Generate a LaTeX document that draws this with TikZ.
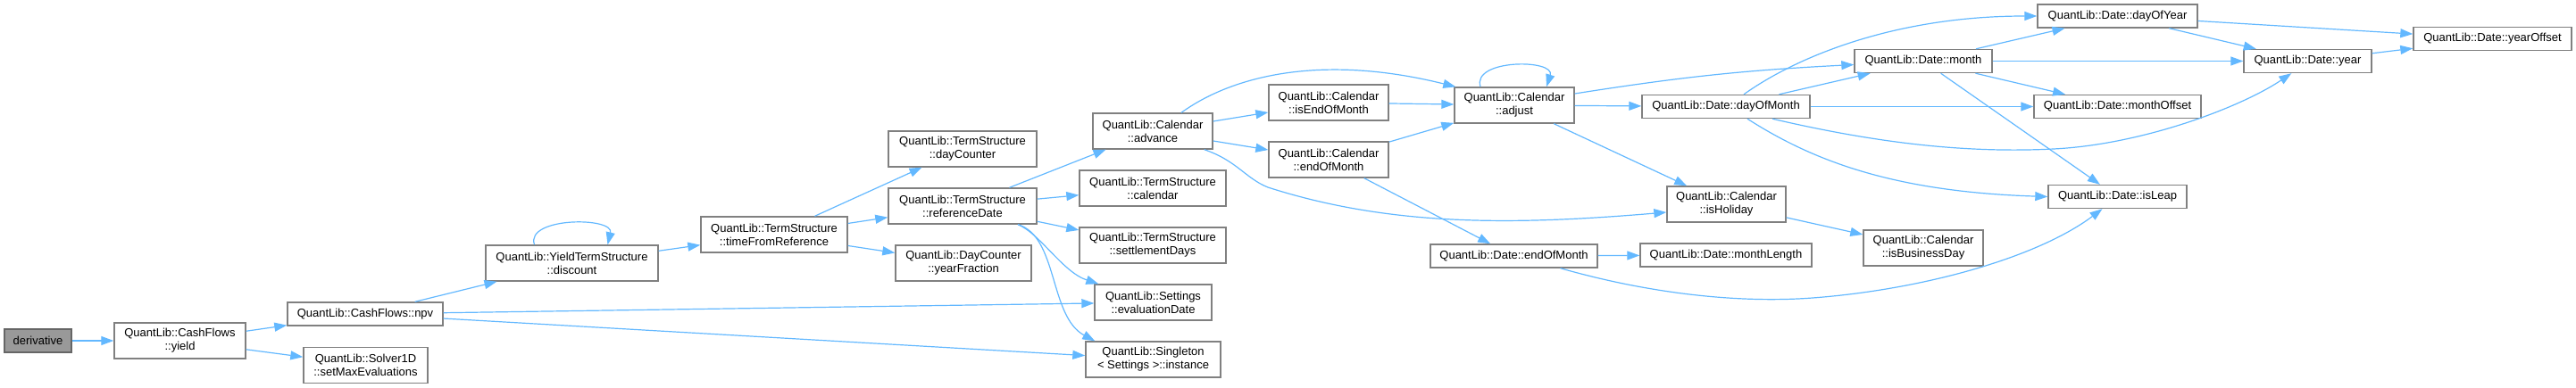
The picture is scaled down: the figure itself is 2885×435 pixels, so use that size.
\documentclass[tikz,border=0pt]{standalone}
\usepackage{fontspec}
\setmainfont{Liberation Sans}
\usepackage{tikz}
\usetikzlibrary{arrows.meta}
\definecolor{edgeblue}{HTML}{63B8FF}
\definecolor{boxgray}{HTML}{808080}
\definecolor{rootgray}{HTML}{999999}
\definecolor{rootedge}{HTML}{666666}

\begin{document}
\begin{tikzpicture}[
    x=1pt, y=-1pt,
    font=\fontsize{13}{15}\selectfont,
    % function boxes
    fn/.style={rectangle, draw=boxgray, fill=white, line width=1.4pt, minimum height=26pt, inner sep=0pt, align=center},
    fn2/.style={fn, minimum height=40pt},
    root/.style={fn, fill=rootgray, draw=rootedge},
    call/.style={-{Triangle[length=14pt,width=10pt]}, draw=edgeblue, line width=1.2pt},
]
\useasboundingbox (0,0) rectangle (2885,435);

% -------------------------
% Caller side
% -------------------------
\node[root, minimum width=75pt]  (derivative) at (42.5,382) {derivative};
\node[fn2, minimum width=147pt]  (yield)      at (201.5,382) {QuantLib::CashFlows\\::yield};
\node[fn, minimum width=174pt]   (npv)        at (409,352) {QuantLib::CashFlows::npv};
\node[fn2, minimum width=139pt]  (setMaxEval) at (409.5,409.5) {QuantLib::Solver1D\\::setMaxEvaluations};
\node[fn2, minimum width=193pt]  (discount)   at (640.5,295) {QuantLib::YieldTermStructure\\::discount};
\node[fn2, minimum width=164pt]  (timeFromRef) at (867,263) {QuantLib::TermStructure\\::timeFromReference};

% -------------------------
% Term structure / settings
% -------------------------
\node[fn2, minimum width=166pt] (dayCounter)   at (1078,167) {QuantLib::TermStructure\\::dayCounter};
\node[fn2, minimum width=166pt] (refDate)      at (1078,231) {QuantLib::TermStructure\\::referenceDate};
\node[fn2, minimum width=152pt] (yearFraction) at (1079,295) {QuantLib::DayCounter\\::yearFraction};
\node[fn2, minimum width=134pt] (advance)      at (1291,147) {QuantLib::Calendar\\::advance};
\node[fn2, minimum width=164pt] (tsCalendar)   at (1291,211) {QuantLib::TermStructure\\::calendar};
\node[fn2, minimum width=164pt] (settlementDays) at (1291,275) {QuantLib::TermStructure\\::settlementDays};
\node[fn2, minimum width=131pt] (evalDate)     at (1291.5,339) {QuantLib::Settings\\::evaluationDate};
\node[fn2, minimum width=151pt] (instance)     at (1291.5,403) {QuantLib::Singleton\\< Settings >::instance};

% -------------------------
% Calendar
% -------------------------
\node[fn2, minimum width=134pt] (isEndOfMonth)  at (1488,115) {QuantLib::Calendar\\::isEndOfMonth};
\node[fn2, minimum width=134pt] (calEndOfMonth) at (1488,179) {QuantLib::Calendar\\::endOfMonth};
\node[fn2, minimum width=134pt] (adjust)        at (1696,118) {QuantLib::Calendar\\::adjust};
\node[fn2, minimum width=133pt] (isHoliday)     at (1933.5,229) {QuantLib::Calendar\\::isHoliday};
\node[fn2, minimum width=134pt] (isBusinessDay) at (2154,278) {QuantLib::Calendar\\::isBusinessDay};

% -------------------------
% Date
% -------------------------
\node[fn, minimum width=188pt] (dayOfMonth)     at (1933,119.5) {QuantLib::Date::dayOfMonth};
\node[fn, minimum width=187pt] (dateEndOfMonth) at (1695.5,287) {QuantLib::Date::endOfMonth};
\node[fn, minimum width=192pt] (monthLength)    at (1933,286) {QuantLib::Date::monthLength};
\node[fn, minimum width=154pt] (month)          at (2154,68.5) {QuantLib::Date::month};
\node[fn, minimum width=179pt] (dayOfYear)      at (2371.5,18) {QuantLib::Date::dayOfYear};
\node[fn, minimum width=187pt] (monthOffset)    at (2371.5,119.5) {QuantLib::Date::monthOffset};
\node[fn, minimum width=155pt] (isLeap)         at (2371.5,220.5) {QuantLib::Date::isLeap};
\node[fn, minimum width=143pt] (year)           at (2584.5,68.5) {QuantLib::Date::year};
\node[fn, minimum width=177pt] (yearOffset)     at (2791.5,43.5) {QuantLib::Date::yearOffset};

% -------------------------
% Calls (left part)
% -------------------------
\draw[call] (derivative) -- (yield);
\draw[call] (yield) -- (npv);
\draw[call] (yield) -- (setMaxEval);
\draw[call] (npv) -- (discount);
\draw[call] (npv) -- (evalDate);
\draw[call] (npv) -- (instance);
\draw[call] ([xshift=-42pt]discount.north) .. controls (588,243) and (688,243) .. ([xshift=40pt]discount.north);
\draw[call] (discount) -- (timeFromRef);
\draw[call] (timeFromRef) -- (dayCounter);
\draw[call] (timeFromRef) -- (refDate);
\draw[call] (timeFromRef) -- (yearFraction);

% -------------------------
% Calls from referenceDate and advance
% -------------------------
\draw[call] (refDate) -- (advance);
\draw[call] (refDate) -- (tsCalendar);
\draw[call] (refDate) -- (settlementDays);
\draw[call] ([xshift=62pt]refDate.south) .. controls (1165,262) and (1190,305) .. ([xshift=5pt]evalDate.north west);
\draw[call] ([xshift=62pt]refDate.south) .. controls (1185,265) and (1175,355) .. ([xshift=11pt]instance.north west);
\draw[call] ([xshift=32pt]advance.north) .. controls (1380,85) and (1480,60) .. ([xshift=2pt]adjust.north west);
\draw[call] (advance) -- (isEndOfMonth);
\draw[call] (advance) -- (calEndOfMonth);
\draw[call] ([xshift=-10pt]advance.south east) .. controls (1385,180) and (1395,200) .. (1420,210)
            .. controls (1560,255) and (1700,252) .. ([yshift=-9pt]isHoliday.west);

% -------------------------
% Calendar calls
% -------------------------
\draw[call] (isEndOfMonth) -- (adjust);
\draw[call] (calEndOfMonth) -- (adjust);
\draw[call] (calEndOfMonth) -- (dateEndOfMonth);
\draw[call] ([xshift=-38pt]adjust.north) .. controls (1648,66) and (1742,66) .. ([xshift=36pt]adjust.north);
\draw[call] (adjust) -- (dayOfMonth);
\draw[call] (adjust) -- (isHoliday);
\draw[call] ([yshift=13pt]adjust.east) to[bend left=3] ([yshift=-4pt]month.west);
\draw[call] (isHoliday) -- (isBusinessDay);

% -------------------------
% Date calls
% -------------------------
\draw[call] ([xshift=20pt]dayOfMonth.north) .. controls (2010,65) and (2120,18) .. (dayOfYear.west);
\draw[call] (dayOfMonth) -- (month);
\draw[call] (dayOfMonth) -- (monthOffset);
\draw[call] ([xshift=52pt]dayOfMonth.south) .. controls (2100,160) and (2200,172) .. (2300,167)
            .. controls (2400,162) and (2510,120) .. ([xshift=54pt]year.south west);
\draw[call] ([xshift=24pt]dayOfMonth.south) .. controls (2030,180) and (2120,215) .. (isLeap.west);
\draw[call] (month) -- (dayOfYear);
\draw[call] (month) -- (year);
\draw[call] (month) -- (monthOffset);
\draw[call] (month) -- (isLeap);
\draw[call] (dayOfYear) -- (year);
\draw[call] (dayOfYear) -- (yearOffset);
\draw[call] (year) -- (yearOffset);
\draw[call] (dateEndOfMonth) -- (monthLength);
\draw[call] ([xshift=52pt]dateEndOfMonth.south) .. controls (1850,330) and (1950,340) .. (2030,334)
            .. controls (2150,325) and (2280,290) .. ([xshift=-17pt]isLeap.south);

\end{tikzpicture}
\end{document}
